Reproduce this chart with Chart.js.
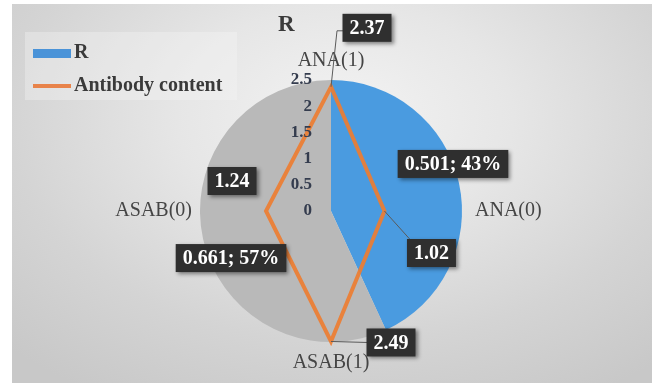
<!DOCTYPE html>
<html>
<head>
<meta charset="utf-8">
<script src="https://cdn.jsdelivr.net/npm/chart.js@4.4.0/dist/chart.umd.min.js"></script>
<style>
  body { margin:0; background:#fff; width:652px; height:383px; overflow:hidden; font-family:"Liberation Serif", serif; }
  #panel { position:absolute; left:12px; top:4px; width:640px; height:379px;
    background: radial-gradient(ellipse 75% 85% at 52% 30%, #f3f3f3 0%, #e6e6e6 35%, #d4d4d4 70%, #c8c8c8 100%); }
  canvas { position:absolute; left:0; top:0; }
  #title { position:absolute; left:278px; top:11px; font-size:23px; font-weight:bold; color:#3a3a3a; }
  #legend { position:absolute; left:25px; top:32px; width:212px; height:68px; background:rgba(245,245,245,0.35); }
  .item { position:absolute; left:8px; font-size:20px; font-weight:bold; color:#3a3a3a; line-height:22px; white-space:nowrap; }
  .sw { display:inline-block; width:38px; vertical-align:middle; margin-right:3px; }
</style>
</head>
<body>
<div id="panel"></div>
<canvas id="pie" width="652" height="383"></canvas>
<canvas id="radar" width="652" height="383"></canvas>
<div id="title">R</div>
<div id="legend">
  <div class="item" style="top:8px"><span class="sw" style="height:9px;background:#4a93d8"></span>R</div>
  <div class="item" style="top:41px"><span class="sw" style="height:4px;background:#e8834a"></span>Antibody content</div>
</div>
<script>
// pie: R
const pieLabels = ["ANA(0)", "ASAB(0)"];
const pieValues = [0.501, 0.661];
const pieColors = ["#4a9be0", "#b9b9b9"];

// radar: Antibody content
const axisLabels = ["ANA(1)", "ANA(0)", "ASAB(1)", "ASAB(0)"];
const antibody = [2.37, 1.02, 2.49, 1.24];
const rTicks = [0, 0.5, 1, 1.5, 2, 2.5];

// label placement (box centre relative to mark)
const pieLabelOff = [[58, -33], [-36, 33]];
const radarLabelOff = [[36, -59], [47, 42], [60, 1], [-34, -30]];
const radarLeader = [true, true, true, false];
const axisDist = [150, 144, 152, 139];

const pad = { left: 200, right: 190, top: 80, bottom: 41 };

function pct(v) {
  const s = pieValues.reduce((a, b) => a + b, 0);
  return Math.round(v / s * 100) + "%";
}

function box(ctx, text, cx, cy) {
  ctx.font = "bold 20px 'Liberation Serif'";
  const w = ctx.measureText(text).width + 14, h = 28;
  ctx.save();
  ctx.shadowColor = "rgba(0,0,0,0.45)";
  ctx.shadowBlur = 4; ctx.shadowOffsetX = 2; ctx.shadowOffsetY = 2;
  ctx.fillStyle = "#2f2f2f";
  ctx.fillRect(cx - w / 2, cy - h / 2, w, h);
  ctx.restore();
  ctx.fillStyle = "#fff";
  ctx.textAlign = "center"; ctx.textBaseline = "middle";
  ctx.fillText(text, cx, cy + 1);
}

const pieChart = new Chart(document.getElementById('pie'), {
  type: 'pie',
  data: { labels: pieLabels, datasets: [{ label: 'R', data: pieValues, backgroundColor: pieColors, borderWidth: 0 }] },
  options: {
    responsive: false, animation: false,
    layout: { padding: pad },
    plugins: { legend: { display: false }, tooltip: { enabled: false } }
  }
});

const overlay = {
  id: 'overlay',
  afterDatasetsDraw(chart) {
    const ctx = chart.ctx, sc = chart.scales.r;
    ctx.save();
    // tick labels
    ctx.font = "bold 17px 'Liberation Serif'";
    ctx.fillStyle = "#343c4e";
    ctx.textAlign = "right"; ctx.textBaseline = "middle";
    sc.ticks.forEach(t => {
      const d = sc.getDistanceFromCenterForValue(t.value);
      ctx.fillText(t.value, sc.xCenter - 19, sc.yCenter - d);
    });
    // axis labels
    ctx.font = "20px 'Liberation Serif'";
    ctx.fillStyle = "#454545";
    const aligns = ["center", "left", "center", "right"];
    chart.data.labels.forEach((lab, i) => {
      const p = sc.getPointPosition(i, axisDist[i]);
      ctx.textAlign = aligns[i]; ctx.textBaseline = "middle";
      ctx.fillText(lab, p.x, p.y);
    });
    // pie labels
    pieChart.getDatasetMeta(0).data.forEach((arc, i) => {
      const p = arc.tooltipPosition();
      box(ctx, pieValues[i] + "; " + pct(pieValues[i]), p.x + pieLabelOff[i][0], p.y + pieLabelOff[i][1]);
    });
    // radar labels
    chart.getDatasetMeta(0).data.forEach((pt, i) => {
      const cx = pt.x + radarLabelOff[i][0], cy = pt.y + radarLabelOff[i][1];
      if (radarLeader[i]) {
        ctx.strokeStyle = "#5a5a5a"; ctx.lineWidth = 1;
        ctx.beginPath();
        ctx.moveTo(pt.x, pt.y);
        if (i === 0) { ctx.lineTo(cx - 30, cy + 3); ctx.lineTo(cx - 20, cy + 3); }
        else if (i === 1) { ctx.lineTo(cx - 20, cy - 12); }
        else { ctx.lineTo(cx - 24, cy); }
        ctx.stroke();
      }
      box(ctx, String(antibody[i]), cx, cy);
    });
    ctx.restore();
  }
};

new Chart(document.getElementById('radar'), {
  type: 'radar',
  data: { labels: axisLabels, datasets: [{
    label: 'Antibody content', data: antibody, fill: false,
    borderColor: 'rgba(237,125,49,0.92)', borderWidth: 4, pointRadius: 0, tension: 0
  }] },
  options: {
    responsive: false, animation: false,
    layout: { padding: pad },
    plugins: { legend: { display: false }, tooltip: { enabled: false } },
    scales: { r: {
      min: rTicks[0], max: rTicks[rTicks.length - 1],
      afterBuildTicks(s) { s.ticks = rTicks.map(v => ({ value: v })); },
      ticks: { display: false },
      grid: { display: false }, angleLines: { display: false },
      pointLabels: { display: false }
    } }
  },
  plugins: [overlay]
});
</script>
</body>
</html>
